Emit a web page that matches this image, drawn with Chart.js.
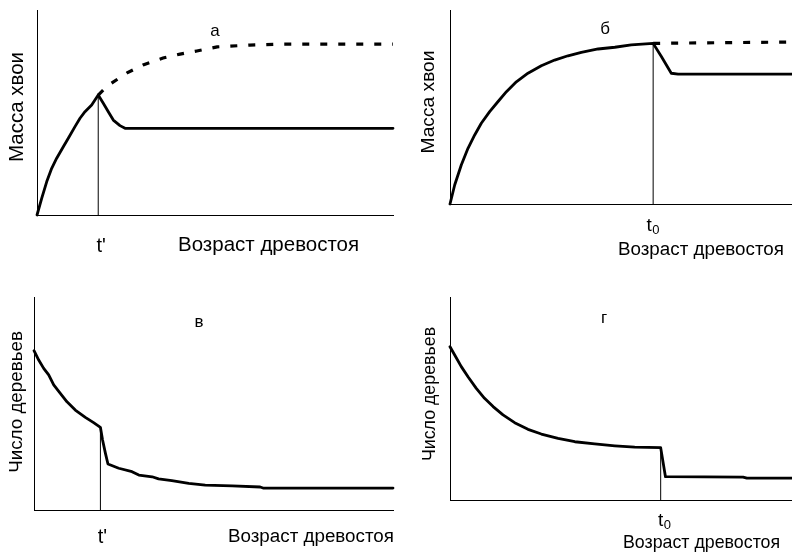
<!DOCTYPE html>
<html>
<head>
<meta charset="utf-8">
<script src="https://cdn.jsdelivr.net/npm/chart.js@4/dist/chart.umd.min.js"></script>
<style>
  html, body { margin: 0; padding: 0; background: #fff; }
  #wrap { position: relative; width: 792px; height: 552px; overflow: hidden; }
  .panel { position: absolute; width: 396px; height: 276px; }
</style>
</head>
<body>
<div id="wrap">
  <div class="panel" style="left:0;top:0"><canvas id="cA"></canvas></div>
  <div class="panel" style="left:396px;top:0"><canvas id="cB"></canvas></div>
  <div class="panel" style="left:0;top:276px"><canvas id="cV"></canvas></div>
  <div class="panel" style="left:396px;top:276px"><canvas id="cG"></canvas></div>
</div>
<script>
// Panel а: needle mass, thinning at an early age t'
const ageA_real  = [0, 1.32, 2.72, 4.13, 5.53, 7.39, 8.79, 10.67, 12.08, 13.48, 15.36, 17.2, 18.62, 20.03, 21.43, 23.31, 24.72, 27.5, 100];
const massA_real = [0, 8.15, 16.2, 22.8, 27.7, 33.3, 37.4, 43.1, 47.2, 50.4, 53.7, 58.5, 54.5, 50.4, 46.3, 43.6, 42.3, 42.3, 42.3];
const ageA_pot   = [17.2, 19.7, 25.3, 29.8, 35.4, 40.2, 44.9, 50.6, 59.8, 69.1, 100];
const massA_pot  = [58.5, 62.9, 69.3, 73.2, 76.6, 78.5, 80, 82, 82.9, 83.4, 83.4];
const tA = 17.2;

// Panel б: needle mass, thinning at age t0
const ageB_real  = [0, 1.37, 3.3, 5.26, 7.22, 9.15, 11.6, 14.0, 16.5, 19.4, 22.8, 26.7, 30.6, 34.5, 38.4, 43.3, 48.2, 53.0, 59.4, 61.8, 64.7, 66.7, 100];
const massB_real = [0, 9.8, 20.1, 28.7, 35.6, 41.6, 47.6, 52.7, 57.9, 63.0, 67.4, 71.3, 74.2, 76.4, 78.2, 79.9, 80.8, 82.0, 82.8, 76, 67.4, 66.9, 66.9];
const ageB_pot   = [59.4, 100];
const massB_pot  = [82.8, 83.5];
const tB = 59.4;

// Panel в: number of trees, thinning at t'
const ageV   = [0, 1.31, 2.7, 4.09, 5.49, 7.33, 9.19, 11.5, 14.3, 16.6, 18.5, 19.1, 19.9, 20.6, 23.6, 27.3, 29.2, 32.9, 34.7, 38.4, 43.1, 47.7, 55.2, 63.0, 63.8, 100];
const treesV = [74.8, 70.4, 66.5, 63.4, 58.7, 54.8, 50.8, 46.9, 43.5, 41.0, 38.8, 32.9, 26.6, 21.6, 19.6, 18.0, 16.4, 15.6, 14.6, 13.8, 12.5, 11.7, 11.3, 10.8, 10.3, 10.3];
const tV = 18.5;

// Panel г: number of trees, thinning at t0
const ageG   = [0, 1.37, 3.3, 5.26, 7.69, 10.1, 12.6, 15.5, 18.9, 22.8, 26.7, 31.6, 36.5, 42.3, 48.2, 54.0, 61.6, 63.0, 85.7, 86.8, 100];
const treesG = [75.5, 71.4, 65.7, 60.7, 55.0, 50.1, 46.0, 41.9, 38.1, 34.8, 32.5, 30.4, 28.7, 27.6, 26.7, 26.0, 25.8, 11.5, 11.3, 10.8, 10.8];
const tG = 61.6;

const xTitle = 'Возраст древостоя';
const yTitleMass = 'Масса хвои';
const yTitleTrees = 'Число деревьев';

const FONT = '"Liberation Sans", Arial, sans-serif';

function pts(xs, ys) { return xs.map((x, i) => ({ x: x, y: ys[i] })); }

function solid(data) {
  return { data, borderColor: '#000', borderWidth: 2.8, pointRadius: 0, tension: 0, clip: 6, borderJoinStyle: 'round', borderCapStyle: 'round' };
}
function dashed(data) {
  return { data, borderColor: '#000', borderWidth: 3.2, borderDash: [7, 11], pointRadius: 0, tension: 0, clip: 6 };
}
function marker(t, top) {
  return { data: [{ x: t, y: 0 }, { x: t, y: top }], borderColor: '#000', borderWidth: 1, pointRadius: 0, tension: 0, clip: 6 };
}

function axis() {
  return {
    type: 'linear', min: 0, max: 100, display: true,
    grid: { display: false, drawTicks: false },
    border: { display: true, color: '#000', width: 1 },
    ticks: { display: false },
    afterFit: s => { if (s.isHorizontal()) s.height = 0; else s.width = 0; }
  };
}

// Labels: panel letter, age marker under the axis, axis titles
function labels(cfg) {
  return {
    id: 'labels',
    afterDraw(chart) {
      const ctx = chart.ctx;
      const xs = chart.scales.x;
      ctx.save();
      ctx.fillStyle = '#000';
      ctx.textAlign = 'center';
      ctx.textBaseline = 'middle';
      // panel letter
      ctx.font = cfg.letterSize + 'px ' + FONT;
      ctx.fillText(cfg.letter, cfg.letterX, cfg.letterY);
      // age marker label
      const tx = xs.getPixelForValue(cfg.t) + cfg.tShift;
      ctx.font = cfg.tSize + 'px ' + FONT;
      if (cfg.sub) {
        const w = ctx.measureText('t').width;
        ctx.textAlign = 'left';
        ctx.fillText('t', tx - w / 2, cfg.tY);
        ctx.font = cfg.subSize + 'px ' + FONT;
        ctx.fillText('0', tx + w / 2 + 0.5, cfg.tY + 4);
      } else {
        ctx.fillText("t'", tx, cfg.tY);
      }
      // x title
      ctx.textAlign = 'left';
      ctx.font = cfg.xSize + 'px ' + FONT;
      ctx.fillText(xTitle, cfg.xTitleX, cfg.xTitleY);
      // y title
      ctx.textAlign = 'center';
      ctx.font = cfg.ySize + 'px ' + FONT;
      ctx.translate(cfg.yTitleX, cfg.yTitleY);
      ctx.rotate(-Math.PI / 2);
      ctx.fillText(cfg.yTitle, 0, 0);
      ctx.restore();
    }
  };
}

function make(id, datasets, padding, cfg) {
  new Chart(document.getElementById(id), {
    type: 'line',
    data: { datasets },
    options: {
      responsive: true, maintainAspectRatio: false, animation: false,
      events: [],
      layout: { padding },
      scales: { x: axis(), y: axis() },
      plugins: { legend: { display: false }, tooltip: { enabled: false } }
    },
    plugins: [labels(cfg)]
  });
}

make('cA',
  [marker(tA, massA_real[11]), dashed(pts(ageA_pot, massA_pot)), solid(pts(ageA_real, massA_real))],
  { left: 37, top: 10, right: 3, bottom: 61 },
  { letter: 'а', letterX: 215, letterY: 31, letterSize: 17, t: tA, tShift: 3, tY: 246, tSize: 20,
    xTitleX: 178, xTitleY: 245, xSize: 20.5, yTitle: yTitleMass, yTitleX: 17, yTitleY: 107, ySize: 20.5 });

make('cB',
  [marker(tB, massB_real[18]), dashed(pts(ageB_pot, massB_pot)), solid(pts(ageB_real, massB_real))],
  { left: 54, top: 10, right: 0, bottom: 72 },
  { letter: 'б', letterX: 209, letterY: 29, letterSize: 17, t: tB, tShift: -4, tY: 226, tSize: 19, subSize: 13, sub: true,
    xTitleX: 222, xTitleY: 250, xSize: 18.8, yTitle: yTitleMass, yTitleX: 33, yTitleY: 102, ySize: 19.2 });

make('cV',
  [marker(tV, treesV[10]), solid(pts(ageV, treesV))],
  { left: 34, top: 21, right: 3, bottom: 42 },
  { letter: 'в', letterX: 199, letterY: 46, letterSize: 17, t: tV, tShift: 2, tY: 261, tSize: 20,
    xTitleX: 228, xTitleY: 261, xSize: 18.8, yTitle: yTitleTrees, yTitleX: 17, yTitleY: 126, ySize: 18.8 });

make('cG',
  [marker(tG, treesG[16]), solid(pts(ageG, treesG))],
  { left: 54, top: 21, right: 0, bottom: 52 },
  { letter: 'г', letterX: 208, letterY: 42, letterSize: 17, t: tG, tShift: 0, tY: 245, tSize: 19, subSize: 13, sub: true,
    xTitleX: 227, xTitleY: 267, xSize: 17.8, yTitle: yTitleTrees, yTitleX: 34, yTitleY: 118, ySize: 17.8 });
</script>
</body>
</html>
